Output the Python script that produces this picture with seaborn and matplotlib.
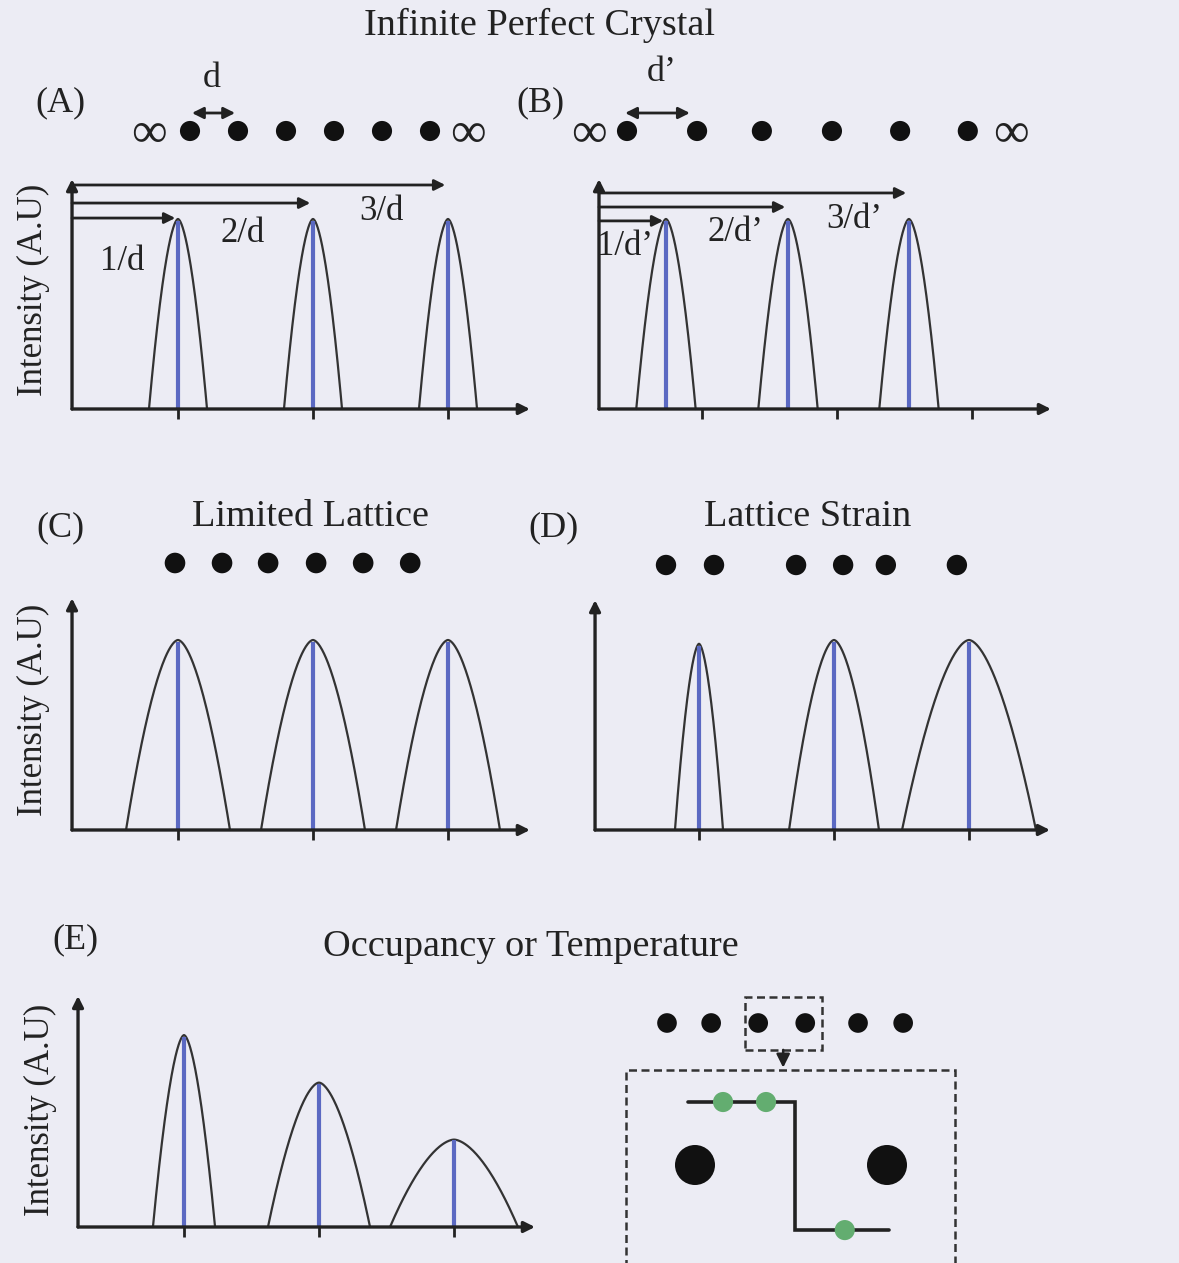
import numpy as np
import pandas as pd
import seaborn as sns
import matplotlib
matplotlib.use("Agg")
import matplotlib.pyplot as plt
from matplotlib.patches import Rectangle

W, H = 1179, 1263
BG = "#ececf4"
INK = "#222222"
BLUE = "#5b69c2"
GREEN = "#63ad70"

# ---- data ----------------------------------------------------------
# peak positions in units of 1/d, intensity in A.U., half widths at base
ticks = [1, 2, 3]
a_centers, a_heights, a_widths = [1.0, 2.0, 3.0], [1.0, 1.0, 1.0], [0.215, 0.215, 0.215]
b_centers, b_heights, b_widths = [0.733, 1.637, 2.533], [1.0, 1.0, 1.0], [0.22, 0.22, 0.22]
c_centers, c_heights, c_widths = [1.0, 2.0, 3.0], [1.0, 1.0, 1.0], [0.385, 0.385, 0.385]
d_centers, d_heights, d_widths = [1.0, 2.0, 3.0], [0.98, 1.0, 1.0], [0.178, 0.333, 0.496]
e_centers, e_heights, e_widths = [1.0, 2.0, 3.0], [1.01, 0.76, 0.46], [0.23, 0.378, 0.474]

# arrows to the reflections (height of arrow) and their labels
a_arrow_levels = [1.005, 1.084, 1.179]
a_labels = ["1/d", "2/d", "3/d"]
b_arrow_levels = [0.99, 1.063, 1.137]
b_labels = ["1/d\u2019", "2/d\u2019", "3/d\u2019"]

# lattice points, in units of d
lat_a = [0, 1, 2, 3, 4, 5]
lat_b = [0, 1.46, 2.81, 4.27, 5.69, 7.1]
lat_c = [0, 0.98, 1.94, 2.94, 3.92, 4.9]
lat_d = [0, 1, 2.71, 3.69, 4.58, 6.06]
lat_e = [0, 0.92, 1.9, 2.88, 3.98, 4.92]

# zoomed view in (E): atoms, partly occupied sites, boundary
atom_x, atom_y = [0, 1], [0, 0]
occ_x, occ_y = [0.146, 0.37, 0.78], [0.328, 0.328, -0.339]
step_x, step_y = [-0.036, 0.52, 0.52, 1.01], [0.328, 0.328, -0.339, -0.339]

sns.set_theme(style="white", rc={"figure.facecolor": BG, "axes.facecolor": BG})
plt.rcParams["font.family"] = ["Liberation Serif", "DejaVu Serif"]
plt.rcParams["text.color"] = INK

fig = plt.figure(figsize=(W / 100, H / 100), dpi=100)
DASH = (0, (3.2, 1.8))


def add_ax(ox, oy, ux, uy, xlim, ylim):
    # ox, oy = pixel of data origin, ux, uy = pixels per data unit
    l, r = ox + xlim[0] * ux, ox + xlim[1] * ux
    b, t = oy - ylim[0] * uy, oy - ylim[1] * uy
    ax = fig.add_axes([l / W, 1 - b / H, (r - l) / W, (b - t) / H])
    ax.set_axis_off()
    ax.patch.set_alpha(0)
    return ax


def arrow(ax, start, end, style="-|>", lw=2.4, ms=16):
    ax.annotate("", xy=end, xytext=start, annotation_clip=False,
                arrowprops=dict(arrowstyle=style, color=INK, lw=lw, mutation_scale=ms,
                                shrinkA=0, shrinkB=0))


def peak_panel(ox, oy, q_axis, q_end, i_top, centers, heights, widths):
    xlim, ylim = (q_axis - 0.1, q_end + 0.1), (-0.1, i_top + 0.1)
    ax = add_ax(ox, oy, 135, 190, xlim, ylim)
    t = np.linspace(-1, 1, 161)
    df = pd.concat([pd.DataFrame({"q": c + w * t, "I": h * (1 - np.abs(t) ** 1.7), "peak": k})
                    for k, (c, h, w) in enumerate(zip(centers, heights, widths))],
                   ignore_index=True)
    sns.lineplot(data=df, x="q", y="I", units="peak", estimator=None, sort=False,
                 color="#333333", lw=1.6, ax=ax, legend=False)
    ax.vlines(centers, 0, np.array(heights) * 0.99, color=BLUE, lw=3)
    ax.vlines(ticks, -0.05, 0, color=INK, lw=2)
    arrow(ax, (q_axis, 0), (q_end, 0))
    arrow(ax, (q_axis, 0), (q_axis, i_top))
    ax.set_xlim(*xlim)
    ax.set_ylim(*ylim)
    ax.set_axis_off()
    return ax


def lattice(x0, y0, pos, s=210):
    xlim, ylim = (min(pos) - 1.5, max(pos) + 1.5), (-1.5, 1.5)
    ax = add_ax(x0, y0, 48, 48, xlim, ylim)
    sns.scatterplot(x=pos, y=[0] * len(pos), s=s, color="#111111", edgecolor="none",
                    ax=ax, legend=False)
    ax.set_xlim(*xlim)
    ax.set_ylim(*ylim)
    ax.set_axis_off()
    return ax


def ftext(x, y, s, size=26, **kw):
    fig.text(x / W, 1 - y / H, s, fontsize=size, ha="center", va="center", **kw)


# ---- (A) infinite perfect crystal ---------------------------------
axA = peak_panel(43, 409, 0.215, 3.607, 1.21, a_centers, a_heights, a_widths)
for c, lev in zip(a_centers, a_arrow_levels):
    arrow(axA, (0.215, lev), (c - 0.02, lev), lw=2, ms=16)
for (qx, iy), lab in zip([(0.585, 0.774), (1.48, 0.926), (2.51, 1.037)], a_labels):
    axA.text(qx, iy, lab, fontsize=25, ha="center", va="center")

latA = lattice(190, 131, lat_a)
latA.text(-0.85, -0.08, "\u221e", fontsize=36, ha="center", va="center")
latA.text(5.8, -0.08, "\u221e", fontsize=36, ha="center", va="center")
arrow(latA, (0.04, 0.375), (0.94, 0.375), style="<|-|>", lw=2, ms=17)
latA.text(0.46, 1.1, "d", fontsize=26, ha="center", va="center")

# ---- (B) larger spacing d' -----------------------------------------
axB = peak_panel(567, 409, 0.237, 3.585, 1.21, b_centers, b_heights, b_widths)
for c, lev in zip(b_centers, b_arrow_levels):
    arrow(axB, (0.237, lev), (c - 0.02, lev), lw=2, ms=16)
for (qx, iy), lab in zip([(0.43, 0.855), (1.244, 0.93), (2.125, 1.0)], b_labels):
    axB.text(qx, iy, lab, fontsize=25, ha="center", va="center")

latB = lattice(627, 131, lat_b)
latB.text(-0.8, -0.08, "\u221e", fontsize=36, ha="center", va="center")
latB.text(8.0, -0.08, "\u221e", fontsize=36, ha="center", va="center")
arrow(latB, (-0.04, 0.375), (1.31, 0.375), style="<|-|>", lw=2, ms=17)
latB.text(0.73, 1.22, "d\u2019", fontsize=26, ha="center", va="center")

# ---- (C) limited lattice, (D) lattice strain -----------------------
peak_panel(43, 830, 0.215, 3.607, 1.22, c_centers, c_heights, c_widths)
lattice(175, 563, lat_c, s=220)
peak_panel(564, 830, 0.23, 3.6, 1.21, d_centers, d_heights, d_widths)
lattice(666, 565, lat_d, s=215)

# ---- (E) occupancy or temperature ----------------------------------
peak_panel(49, 1227, 0.215, 3.6, 1.216, e_centers, e_heights, e_widths)
latE = lattice(667, 1023, lat_e, s=200)
latE.add_patch(Rectangle((1.625, -0.56), 1.6, 1.1, fill=False, ls=DASH,
                         lw=1.8, ec="#333333", clip_on=False))
arrow(latE, (2.42, -0.56), (2.42, -0.93), lw=1.8, ms=20)

ins = add_ax(695, 1165, 192, 192, (-0.45, 1.45), (-0.7, 0.6))
ins.add_patch(Rectangle((-0.36, -0.7), 1.714, 1.195, fill=False, ls=DASH,
                        lw=1.8, ec="#333333", clip_on=False))
ins.plot(step_x, step_y, color=INK, lw=2.6, solid_joinstyle="miter")
sns.scatterplot(x=occ_x, y=occ_y, s=210, color=GREEN, edgecolor="none", ax=ins,
                legend=False, zorder=3)
sns.scatterplot(x=atom_x, y=atom_y, s=830, color="#111111", edgecolor="none", ax=ins,
                legend=False, zorder=3)
ins.set_xlim(-0.45, 1.45)
ins.set_ylim(-0.7, 0.6)
ins.set_axis_off()

# ---- text -----------------------------------------------------------
ftext(540, 25, "Infinite Perfect Crystal", 27.5)
ftext(60, 103, "(A)")
ftext(540, 103, "(B)")
ftext(310, 517, "Limited Lattice", 27.5)
ftext(60, 528, "(C)")
ftext(808, 517, "Lattice Strain", 27.5)
ftext(553, 528, "(D)")
ftext(531, 947, "Occupancy or Temperature", 27.5)
ftext(75, 940, "(E)")
for y in (290, 710):
    ftext(33, y, "Intensity (A.U)", 25, rotation=90)
ftext(40, 1110, "Intensity (A.U)", 25, rotation=90)

fig.savefig("out.png", dpi=100, facecolor=BG)
